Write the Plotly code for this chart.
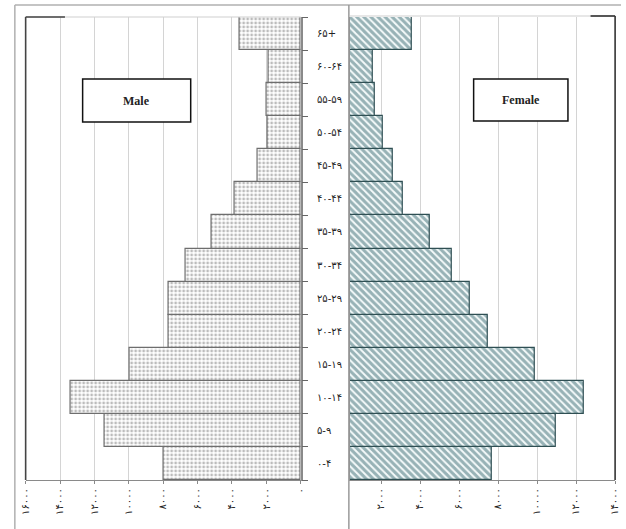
import plotly.graph_objects as go

W, H = 626, 529

age_groups = ["۰-۴", "۵-۹", "۱۰-۱۴", "۱۵-۱۹", "۲۰-۲۴", "۲۵-۲۹", "۳۰-۳۴",
              "۳۵-۳۹", "۴۰-۴۴", "۴۵-۴۹", "۵۰-۵۴", "۵۵-۵۹", "۶۰-۶۴", "۶۵+"]
male = [8000, 11430, 13370, 9940, 7700, 7710, 6690,
        5200, 3830, 2510, 1940, 2000, 1890, 3540]
female = [7680, 10980, 12400, 9900, 7450, 6550, 5650,
          4500, 3100, 2600, 2070, 1670, 1570, 3600]

male_tickvals = [16000, 14000, 12000, 10000, 8000, 6000, 4000, 2000, 0]
male_ticktext = ["۱۶۰۰۰", "۱۴۰۰۰", "۱۲۰۰۰", "۱۰۰۰۰", "۸۰۰۰", "۶۰۰۰", "۴۰۰۰", "۲۰۰۰", "۰"]
female_tickvals = [2000, 4000, 6000, 8000, 10000, 12000, 14000]
female_ticktext = ["۲۰۰۰", "۴۰۰۰", "۶۰۰۰", "۸۰۰۰", "۱۰۰۰۰", "۱۲۰۰۰", "۱۴۰۰۰"]


def px(x):
    return x / W


def py(y):
    return 1 - y / H


fig = go.Figure()
fig.add_trace(go.Bar(
    y=age_groups, x=male, orientation="h", xaxis="x", yaxis="y",
    marker=dict(color="white", line=dict(color="#6e6e6e", width=1.2),
                pattern=dict(shape=".", fgcolor="#7a7a7a", bgcolor="white",
                             size=4, solidity=0.4)),
    showlegend=False, hoverinfo="x+y"))
fig.add_trace(go.Bar(
    y=age_groups, x=female, orientation="h", xaxis="x2", yaxis="y2",
    marker=dict(color="white", line=dict(color="#2f4f53", width=1.2),
                pattern=dict(shape="\\", fgcolor="#3a6a71", bgcolor="#f4fafa",
                             size=5, solidity=0.6)),
    showlegend=False, hoverinfo="x+y"))

tickfont = dict(family="DejaVu Sans", size=10, color="#222")

fig.update_layout(
    width=W, height=H,
    margin=dict(l=0, r=0, t=0, b=0),
    paper_bgcolor="white", plot_bgcolor="rgba(0,0,0,0)",
    bargap=0,
    xaxis=dict(domain=[px(20), px(300)], range=[16000, 0], autorange=False,
               tickvals=male_tickvals, ticktext=male_ticktext, tickangle=-90,
               tickfont=tickfont, showgrid=True, gridcolor="#d4d4d4", gridwidth=1,
               showline=True, linecolor="#8a8a8a", linewidth=1.2,
               ticks="outside", ticklen=3, tickcolor="#8a8a8a",
               zeroline=False, anchor="y"),
    xaxis2=dict(domain=[px(350), px(620)], range=[400, 14000], autorange=False,
                tickvals=female_tickvals, ticktext=female_ticktext, tickangle=-90,
                tickfont=tickfont, showgrid=True, gridcolor="#d4d4d4", gridwidth=1,
                showline=True, linecolor="#8a8a8a", linewidth=1.2,
                ticks="outside", ticklen=3, tickcolor="#8a8a8a",
                zeroline=False, anchor="y2"),
    yaxis=dict(domain=[py(480), py(17)], anchor="x", side="right",
               type="category", showticklabels=False, showgrid=False,
               showline=True, linecolor="#8a8a8a", linewidth=1.5,
               ticks="outside", tickson="boundaries", ticklen=6, tickcolor="#666"),
    yaxis2=dict(domain=[py(480), py(17)], anchor="x2", side="left",
                type="category", showticklabels=False, showgrid=False,
                showline=True, linecolor="#8a8a8a", linewidth=1.2,
                matches="y"),
)

shapes = []
# chart box outlines
shapes.append(dict(type="line", xref="paper", yref="paper",
                   x0=px(9), x1=px(626), y0=py(5), y1=py(5),
                   line=dict(color="#b0b0b0", width=1.5)))
shapes.append(dict(type="line", xref="paper", yref="paper",
                   x0=px(9), x1=px(9), y0=py(5), y1=py(529),
                   line=dict(color="#b0b0b0", width=1.5)))
shapes.append(dict(type="line", xref="paper", yref="paper",
                   x0=px(349), x1=px(349), y0=py(5), y1=py(529),
                   line=dict(color="#9a9a9a", width=1.5)))
# plot area top borders
shapes.append(dict(type="line", xref="paper", yref="paper",
                   x0=px(20), x1=px(300), y0=py(17), y1=py(17),
                   line=dict(color="#cfcfcf", width=1)))
shapes.append(dict(type="line", xref="paper", yref="paper",
                   x0=px(350), x1=px(620), y0=py(16), y1=py(16),
                   line=dict(color="#cfcfcf", width=1)))
# dark outer borders
shapes.append(dict(type="line", xref="paper", yref="paper",
                   x0=px(20), x1=px(20), y0=py(17), y1=py(480),
                   line=dict(color="#444", width=1.6)))
shapes.append(dict(type="line", xref="paper", yref="paper",
                   x0=px(20), x1=px(60), y0=py(17), y1=py(17),
                   line=dict(color="#444", width=1.6)))
shapes.append(dict(type="line", xref="paper", yref="paper",
                   x0=px(620), x1=px(620), y0=py(16), y1=py(480),
                   line=dict(color="#333", width=1.6)))
shapes.append(dict(type="line", xref="paper", yref="paper",
                   x0=px(595), x1=px(620), y0=py(16), y1=py(16),
                   line=dict(color="#333", width=1.6)))
# label boxes
shapes.append(dict(type="rect", xref="paper", yref="paper",
                   x0=px(78), x1=px(188), y0=py(122), y1=py(79),
                   fillcolor="white", line=dict(color="#111", width=1.5)))
shapes.append(dict(type="rect", xref="paper", yref="paper",
                   x0=px(476), x1=px(572), y0=py(121), y1=py(79),
                   fillcolor="white", line=dict(color="#111", width=1.5)))
fig.update_layout(shapes=shapes)

annotations = []
for ag in age_groups:
    annotations.append(dict(x=px(315), xref="paper", y=ag, yref="y",
                            text=ag, showarrow=False, xanchor="left",
                            yanchor="middle",
                            font=dict(family="DejaVu Sans", size=10, color="#222")))
annotations.append(dict(x=px(133), y=py(101), xref="paper", yref="paper",
                        text="<b>Male</b>", showarrow=False,
                        xanchor="center", yanchor="middle",
                        font=dict(family="Liberation Serif", size=12, color="#222")))
annotations.append(dict(x=px(524), y=py(100), xref="paper", yref="paper",
                        text="<b>Female</b>", showarrow=False,
                        xanchor="center", yanchor="middle",
                        font=dict(family="Liberation Serif", size=12, color="#222")))
fig.update_layout(annotations=annotations)

fig.write_html("out.html", config={"displayModeBar": False},
               post_script="document.body.style.margin='0';document.body.style.overflow='hidden';")
